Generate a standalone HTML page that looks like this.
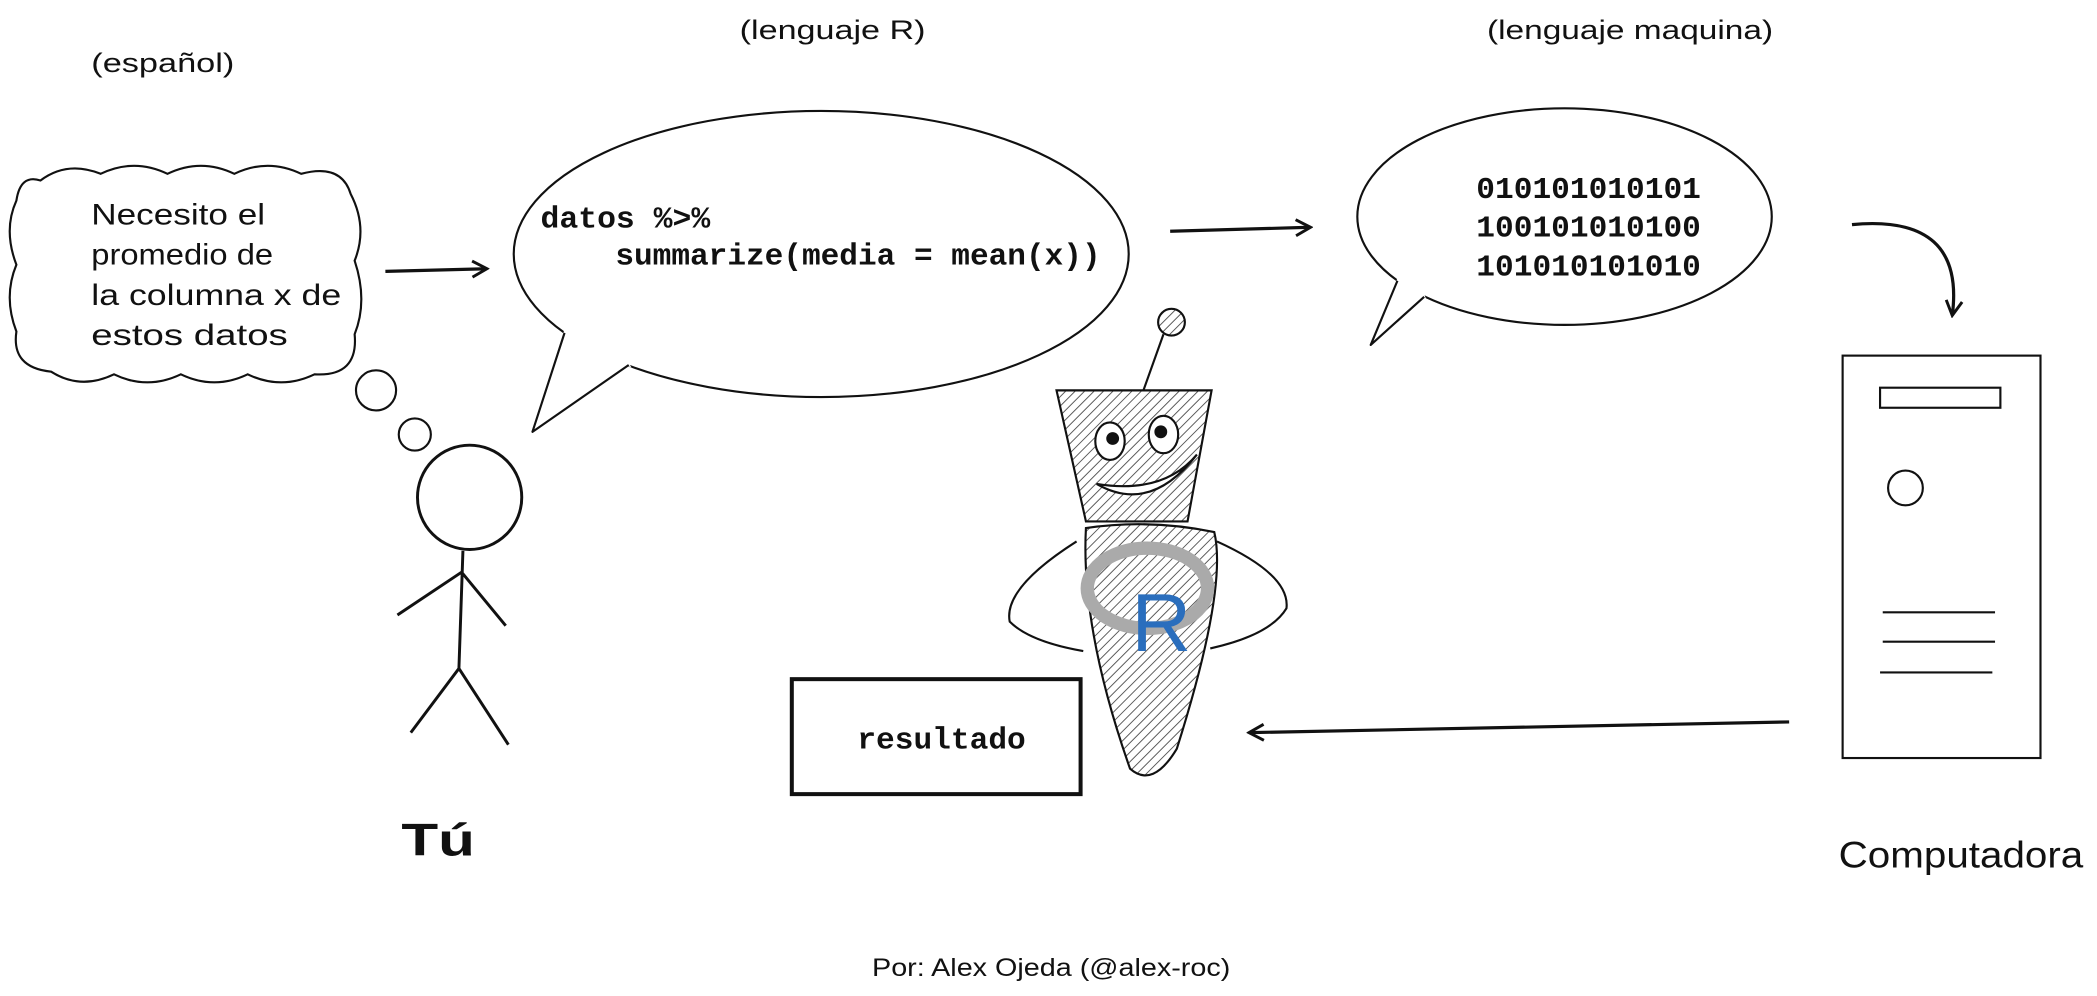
<!DOCTYPE html>
<html><head><meta charset="utf-8"><style>
html,body{margin:0;padding:0;background:#fff;}
svg{display:block}
.h{font-family:"Liberation Sans",sans-serif;fill:#111;}
.m{font-family:"Liberation Mono","DejaVu Sans Mono",monospace;font-weight:bold;fill:#111;}
</style></head><body>
<svg width="2097" height="996" viewBox="0 0 1568 745" xmlns="http://www.w3.org/2000/svg">
<defs>
<pattern id="hatch" width="5" height="5" patternUnits="userSpaceOnUse" patternTransform="rotate(45)">
<rect width="5" height="5" fill="#fff"/><line x1="0" y1="0" x2="0" y2="5" stroke="#555" stroke-width="1.4"/></pattern>
<marker id="ah" markerWidth="14" markerHeight="14" refX="12" refY="7" orient="auto" markerUnits="userSpaceOnUse">
<path d="M1,1 L12,7 L1,13" fill="none" stroke="#111" stroke-width="2.2"/></marker>
</defs>
<text class="h" x="68" y="54" font-size="20" textLength="107" lengthAdjust="spacingAndGlyphs">(español)</text>
<text class="h" x="553" y="29" font-size="20" textLength="139" lengthAdjust="spacingAndGlyphs">(lenguaje R)</text>
<text class="h" x="1112" y="29" font-size="20" textLength="214" lengthAdjust="spacingAndGlyphs">(lenguaje maquina)</text>
<!-- cloud -->
<path d="M30,135 Q50,120 75,130 Q100,118 125,130 Q150,118 175,130 Q200,118 225,130 Q255,122 262,145 Q275,170 265,195 Q275,225 265,250 Q268,282 235,280 Q210,292 185,280 Q160,292 135,280 Q110,292 85,280 Q60,292 38,278 Q8,275 12,248 Q2,222 12,198 Q2,172 12,150 Q15,130 30,135 Z" fill="none" stroke="#111" stroke-width="1.6"/>
<text class="h" x="68" y="168" font-size="22" textLength="130" lengthAdjust="spacingAndGlyphs">Necesito el</text>
<text class="h" x="68" y="198" font-size="22" textLength="136" lengthAdjust="spacingAndGlyphs">promedio de</text>
<text class="h" x="68" y="228" font-size="22" textLength="187" lengthAdjust="spacingAndGlyphs">la columna x de</text>
<text class="h" x="68" y="258" font-size="22" textLength="147" lengthAdjust="spacingAndGlyphs">estos datos</text>
<circle cx="281" cy="292" r="15" fill="none" stroke="#111" stroke-width="1.6"/>
<circle cx="310" cy="325" r="12" fill="none" stroke="#111" stroke-width="1.6"/>
<line x1="288" y1="203" x2="364" y2="201" stroke="#111" stroke-width="2.4" marker-end="url(#ah)"/>
<!-- speech R -->
<ellipse cx="614" cy="190" rx="230" ry="107" fill="#fff" stroke="#111" stroke-width="1.6"/>
<path d="M421,248 L422,249 L470,273 L471,274" fill="#fff" stroke="none"/>
<polygon points="422,247 470,271 472,275 420,251" fill="#fff"/>
<path d="M470,273 L398,323 L422,249" fill="#fff" stroke="#111" stroke-width="1.6" stroke-linejoin="round"/>
<text class="m" x="404" y="170" font-size="23" textLength="127" lengthAdjust="spacingAndGlyphs">datos %&gt;%</text>
<text class="m" x="460" y="198" font-size="23" textLength="363" lengthAdjust="spacingAndGlyphs">summarize(media = mean(x))</text>
<line x1="875" y1="173" x2="980" y2="170" stroke="#111" stroke-width="2.4" marker-end="url(#ah)"/>
<!-- speech machine -->
<ellipse cx="1170" cy="162" rx="155" ry="81" fill="#fff" stroke="#111" stroke-width="1.6"/>
<polygon points="1045,208 1065,220 1067,225 1043,213" fill="#fff"/>
<path d="M1065,222 L1025,258 L1045,210" fill="#fff" stroke="#111" stroke-width="1.6" stroke-linejoin="round"/>
<text class="m" x="1104" y="148" font-size="23" textLength="168" lengthAdjust="spacingAndGlyphs">010101010101</text>
<text class="m" x="1104" y="177" font-size="23" textLength="168" lengthAdjust="spacingAndGlyphs">100101010100</text>
<text class="m" x="1104" y="206" font-size="23" textLength="168" lengthAdjust="spacingAndGlyphs">101010101010</text>
<path d="M1385,168 Q1470,160 1460,236" fill="none" stroke="#111" stroke-width="2.4" marker-end="url(#ah)"/>
<!-- computer -->
<rect x="1378" y="266" width="148" height="301" fill="none" stroke="#111" stroke-width="1.6"/>
<rect x="1406" y="290" width="90" height="15" fill="none" stroke="#111" stroke-width="1.6"/>
<circle cx="1425" cy="365" r="13" fill="none" stroke="#111" stroke-width="1.6"/>
<g stroke="#111" stroke-width="1.6"><line x1="1408" y1="458" x2="1492" y2="458"/><line x1="1408" y1="480" x2="1492" y2="480"/><line x1="1406" y1="503" x2="1490" y2="503"/></g>
<text class="h" x="1375" y="649" font-size="28" textLength="183" lengthAdjust="spacingAndGlyphs">Computadora</text>
<!-- stick figure -->
<g fill="none" stroke="#111" stroke-width="2.2">
<circle cx="351" cy="372" r="39"/>
<path d="M346,412 L343,500 M297,460 L345,428 L378,468 M307,548 L343,500 L380,557"/>
</g>
<text class="h" x="300" y="640" font-size="34" font-weight="bold" textLength="55" lengthAdjust="spacingAndGlyphs">Tú</text>
<!-- robot -->
<g stroke="#111" stroke-width="1.6">
<path d="M805,405 Q750,440 755,465 Q770,480 810,487" fill="none"/>
<path d="M910,405 Q965,430 962,455 Q950,475 905,485" fill="none"/>
<line x1="870" y1="250" x2="855" y2="292" fill="none"/>
<circle cx="876" cy="241" r="10" fill="url(#hatch)"/>
<path d="M790,292 L906,292 L888,390 L812,390 Z" fill="url(#hatch)"/>
<path d="M812,395 Q860,388 908,398 Q918,440 880,560 Q862,590 845,575 Q808,470 812,395 Z" fill="url(#hatch)"/>
<ellipse cx="830" cy="330" rx="11" ry="14" fill="#fff"/><circle cx="832" cy="328" r="4" fill="#111"/>
<ellipse cx="870" cy="325" rx="11" ry="14" fill="#fff"/><circle cx="868" cy="323" r="4" fill="#111"/>
<path d="M820,362 Q860,385 895,340 Q870,370 820,362 Z" fill="#fff"/>
</g>
<ellipse cx="858" cy="440" rx="45" ry="30" fill="none" stroke="#aaa" stroke-width="10"/>
<text x="846" y="487" font-family="Liberation Sans,sans-serif" font-size="62" fill="#2a6ebd">R</text>
<!-- resultado -->
<rect x="592" y="508" width="216" height="86" fill="none" stroke="#111" stroke-width="3"/>
<text class="m" x="641" y="560" font-size="23" textLength="126" lengthAdjust="spacingAndGlyphs">resultado</text>
<line x1="1338" y1="540" x2="934" y2="548" stroke="#111" stroke-width="2.4" marker-end="url(#ah)"/>
<text class="h" x="652" y="730" font-size="19" textLength="268" lengthAdjust="spacingAndGlyphs">Por: Alex Ojeda (@alex-roc)</text>
</svg>
</body></html>
